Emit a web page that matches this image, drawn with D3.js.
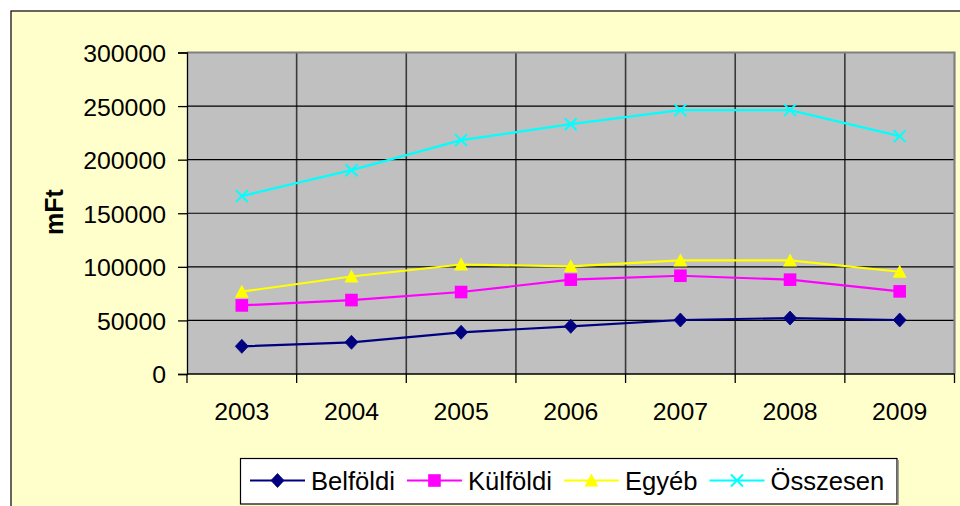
<!DOCTYPE html>
<html>
<head>
<meta charset="utf-8">
<script src="https://cdn.jsdelivr.net/npm/d3@7/dist/d3.min.js"></script>
<style>
  html, body { margin: 0; padding: 0; background: #fff; }
  svg { display: block; font-family: "Liberation Sans", Arial, sans-serif; }
</style>
</head>
<body>
<svg id="chart"></svg>
<script>
const years = ['2003', '2004', '2005', '2006', '2007', '2008', '2009'];
const belfoldi = [25800, 29600, 38900, 44500, 50400, 52200, 50400];
const kulfoldi = [64000, 69000, 76500, 88000, 91700, 88000, 77100];
const egyeb = [76800, 91000, 102200, 100500, 106000, 106000, 95400];
const osszesen = [166000, 190200, 218200, 233100, 246200, 246200, 222000];
const yTicks = [0, 50000, 100000, 150000, 200000, 250000, 300000];

const series = [
  { name: 'Belföldi', values: belfoldi, color: '#000080', marker: 'diamond' },
  { name: 'Külföldi', values: kulfoldi, color: '#ff00ff', marker: 'square' },
  { name: 'Egyéb', values: egyeb, color: '#ffff00', marker: 'triangle' },
  { name: 'Összesen', values: osszesen, color: '#00ffff', marker: 'cross' }
];

const W = 960, H = 506;
const plot = { left: 187, top: 52.5, right: 954.5, bottom: 374 };

const svg = d3.select('#chart').attr('width', W).attr('height', H);

// chart area background + border
svg.append('rect')
  .attr('x', 11).attr('y', 11)
  .attr('width', W + 10).attr('height', H + 10)
  .attr('fill', '#ffffcc')
  .attr('stroke', '#000').attr('stroke-width', 1.2);

const x = d3.scaleBand().domain(years).range([plot.left, plot.right]);
const y = d3.scaleLinear().domain([0, 300000]).range([plot.bottom, plot.top]);

// plot area
svg.append('rect')
  .attr('x', plot.left).attr('y', plot.top)
  .attr('width', plot.right - plot.left).attr('height', plot.bottom - plot.top)
  .attr('fill', '#c0c0c0');

// vertical gridlines at category boundaries
const bounds = years.map(d => x(d)).concat([plot.right]);
svg.append('g').selectAll('line')
  .data(bounds.slice(1, -1))
  .join('line')
  .attr('x1', d => d).attr('x2', d => d)
  .attr('y1', plot.top).attr('y2', plot.bottom)
  .attr('stroke', '#3a3a3a').attr('stroke-width', 1.6);

// horizontal gridlines
svg.append('g').selectAll('line')
  .data(yTicks.slice(1, -1))
  .join('line')
  .attr('x1', plot.left).attr('x2', plot.right)
  .attr('y1', d => y(d)).attr('y2', d => y(d))
  .attr('stroke', '#000').attr('stroke-width', 1.2);

// plot border top/right (gray)
svg.append('path')
  .attr('d', `M${plot.left},${plot.top}H${plot.right}V${plot.bottom}`)
  .attr('fill', 'none')
  .attr('stroke', '#808080').attr('stroke-width', 2.2);

// y axis
const yAxis = svg.append('g')
  .attr('transform', `translate(${plot.left},0)`)
  .call(d3.axisLeft(y).tickValues(yTicks).tickSize(9).tickPadding(12).tickFormat(d3.format('d')));
yAxis.select('.domain').attr('stroke', '#000').attr('stroke-width', 1.3);
yAxis.selectAll('.tick line').attr('stroke', '#000').attr('stroke-width', 1.3);
yAxis.selectAll('.tick text')
  .attr('font-family', '"Liberation Sans", Arial, sans-serif')
  .attr('font-size', 24.8).attr('fill', '#000')
  .attr('dy', '0.36em');

// x axis (ticks at category boundaries)
const xAxis = svg.append('g')
  .attr('transform', `translate(0,${plot.bottom})`);
xAxis.append('line')
  .attr('x1', plot.left).attr('x2', plot.right)
  .attr('stroke', '#000').attr('stroke-width', 1.3);
xAxis.selectAll('.xtick')
  .data(bounds)
  .join('line')
  .attr('x1', d => d).attr('x2', d => d)
  .attr('y1', 0).attr('y2', 9)
  .attr('stroke', '#000').attr('stroke-width', 1.3);
xAxis.selectAll('text')
  .data(years)
  .join('text')
  .attr('x', d => x(d) + x.bandwidth() / 2)
  .attr('y', 46)
  .attr('text-anchor', 'middle')
  .attr('font-size', 24.8).attr('fill', '#000')
  .text(d => d);

// y axis title
svg.append('text')
  .attr('transform', 'translate(63,212) rotate(-90)')
  .attr('text-anchor', 'middle')
  .attr('font-size', 25).attr('font-weight', 'bold').attr('fill', '#000')
  .text('mFt');

function drawMarker(g, type, color, cx, cy) {
  if (type === 'diamond') {
    g.append('path')
      .attr('d', `M${cx},${cy - 7}L${cx + 6.5},${cy}L${cx},${cy + 7}L${cx - 6.5},${cy}Z`)
      .attr('fill', color).attr('stroke', color).attr('stroke-width', 0.8);
  } else if (type === 'square') {
    g.append('rect')
      .attr('x', cx - 6.3).attr('y', cy - 6.3)
      .attr('width', 12.6).attr('height', 12.6)
      .attr('fill', color);
  } else if (type === 'triangle') {
    g.append('path')
      .attr('d', `M${cx},${cy - 7}L${cx + 7},${cy + 6}L${cx - 7},${cy + 6}Z`)
      .attr('fill', color);
  } else if (type === 'cross') {
    g.append('path')
      .attr('d', `M${cx - 6},${cy - 6}L${cx + 6},${cy + 6}M${cx + 6},${cy - 6}L${cx - 6},${cy + 6}`)
      .attr('stroke', color).attr('stroke-width', 2).attr('fill', 'none');
  }
}

const line = d3.line()
  .x((d, i) => x(years[i]) + x.bandwidth() / 2)
  .y(d => y(d));

series.forEach(s => {
  const g = svg.append('g');
  g.append('path')
    .datum(s.values)
    .attr('d', line)
    .attr('fill', 'none')
    .attr('stroke', s.color).attr('stroke-width', 2.2);
  s.values.forEach((v, i) => {
    drawMarker(g, s.marker, s.color, x(years[i]) + x.bandwidth() / 2, y(v));
  });
});

// legend
const legend = svg.append('g');
const legBox = legend.append('rect')
  .attr('fill', '#fff').attr('stroke', '#000').attr('stroke-width', 1.2);
let lx = 250;
const ly = 480.5;
series.forEach(s => {
  const g = legend.append('g');
  g.append('line')
    .attr('x1', lx).attr('x2', lx + 55)
    .attr('y1', ly).attr('y2', ly)
    .attr('stroke', s.color).attr('stroke-width', 2.2);
  drawMarker(g, s.marker, s.color, lx + 27.5, ly);
  const t = g.append('text')
    .attr('x', lx + 61).attr('y', ly + 9.3)
    .attr('font-size', 25.6).attr('fill', '#000')
    .text(s.name);
  lx += 61 + t.node().getComputedTextLength() + 12;
});
legBox.attr('x', 240.5).attr('y', 458.5)
  .attr('width', 897 - 240.5).attr('height', 504 - 458.5);
// slight shadow on the right edge
legend.append('line')
  .attr('x1', 898).attr('x2', 898).attr('y1', 460).attr('y2', 505)
  .attr('stroke', '#808080').attr('stroke-width', 1.5);
</script>
</body>
</html>
